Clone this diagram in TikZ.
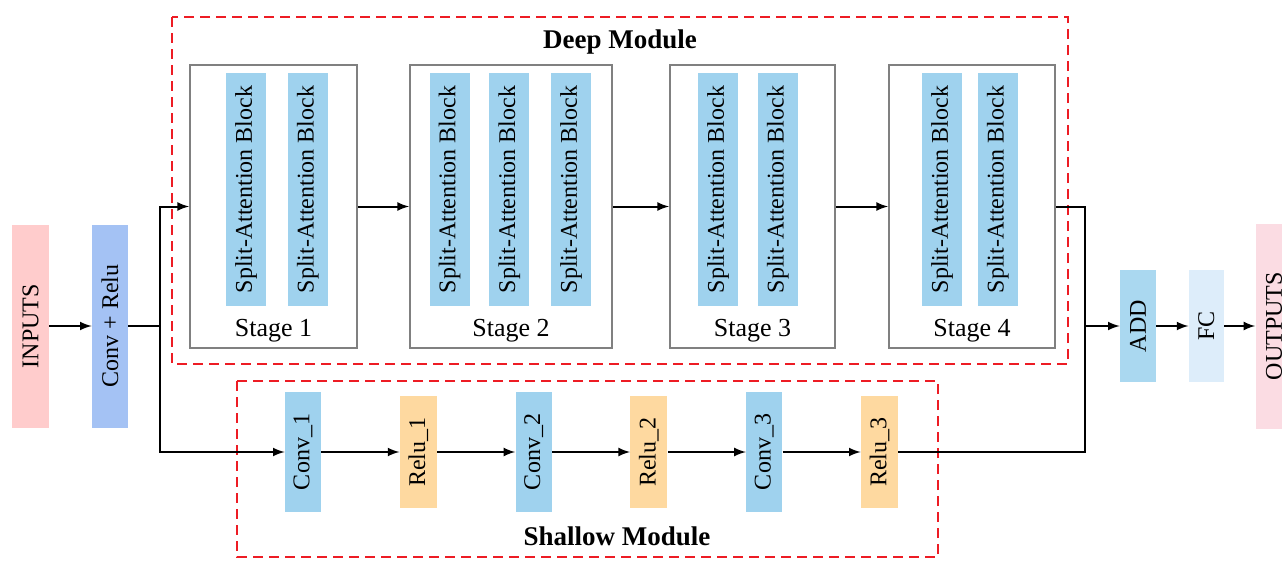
\documentclass[tikz,border=0pt]{standalone}
\usepackage{fontspec}
\setmainfont{Liberation Serif}
\usetikzlibrary{arrows,positioning}
\usepackage{xcolor}
\definecolor{inpink}{RGB}{255, 204, 204}
\definecolor{convblue}{RGB}{164, 194, 244}
\definecolor{skyblue}{RGB}{159, 210, 238}
\definecolor{reluorange}{RGB}{254, 217, 160}
\definecolor{addblue}{RGB}{170, 216, 240}
\definecolor{fcblue}{RGB}{221, 237, 250}
\definecolor{outpink}{RGB}{251, 220, 227}
\definecolor{stagegray}{RGB}{128, 128, 128}
\definecolor{dashred}{RGB}{237, 28, 36}

\newcommand{\vlabel}[1]{\rotatebox{90}{#1}}

\begin{document}
\begin{tikzpicture}[
        x=0.5pt, y=-0.5pt,
        bar/.style={rectangle, inner sep=0pt, fill=#1, font=\fontsize{12}{14}\selectfont},
        stagebox/.style={rectangle, draw=stagegray, line width=1pt, inner sep=0pt},
        splitblock/.style={bar=skyblue, minimum width=20pt, minimum height=116.5pt},
        convblock/.style={bar=skyblue, minimum width=18pt, minimum height=60pt},
        relublock/.style={bar=reluorange, minimum width=18.5pt, minimum height=56pt},
        stagelabel/.style={font=\fontsize{13}{15}\selectfont},
        title/.style={font=\fontsize{13.5}{16}\bfseries},
        module/.style={draw=dashred, line width=1pt, dash pattern=on 5pt off 3pt},
        link/.style={line width=1pt},
        flow/.style={link, -latex}
    ]

        \useasboundingbox (0,0) rectangle (1282,562);

        % input side
        \node (inputs) [
            bar=inpink,
            minimum width=18.5pt,
            minimum height=101.5pt
        ] at (30.5,326) {\vlabel{INPUTS}};

        \node (conv) [
            bar=convblue,
            minimum width=18pt,
            minimum height=101.5pt
        ] at (110,326) {\vlabel{Conv + Relu}};

        \coordinate (split) at (160,326);

        % deep module
        \node (s1) [stagebox, minimum width=83.5pt, minimum height=141.5pt] at (273.5,206.5) {};
        \node (s2) [stagebox, minimum width=101pt, minimum height=141.5pt, right=25.5pt of s1] {};
        \node (s3) [stagebox, minimum width=82.5pt, minimum height=141.5pt, right=28pt of s2] {};
        \node (s4) [stagebox, minimum width=83pt, minimum height=141.5pt, right=26pt of s3] {};

        \node (b11) [splitblock] at (246,189.5) {\vlabel{Split-Attention Block}};
        \node (b12) [splitblock, right=10.5pt of b11] {\vlabel{Split-Attention Block}};

        \node (b21) [splitblock] at (449.5,189.5) {\vlabel{Split-Attention Block}};
        \node (b22) [splitblock, right=9.5pt of b21] {\vlabel{Split-Attention Block}};
        \node (b23) [splitblock, right=10.5pt of b22] {\vlabel{Split-Attention Block}};

        \node (b31) [splitblock] at (718,189.5) {\vlabel{Split-Attention Block}};
        \node (b32) [splitblock, right=9.5pt of b31] {\vlabel{Split-Attention Block}};

        \node (b41) [splitblock] at (942,189.5) {\vlabel{Split-Attention Block}};
        \node (b42) [splitblock, right=7.5pt of b41] {\vlabel{Split-Attention Block}};

        \node (l1) [stagelabel] at ([yshift=9pt]s1.south) {Stage 1};
        \node (l2) [stagelabel] at ([yshift=9pt]s2.south) {Stage 2};
        \node (l3) [stagelabel] at ([yshift=9pt]s3.south) {Stage 3};
        \node (l4) [stagelabel] at ([yshift=9pt]s4.south) {Stage 4};

        \draw[module] (172,17) rectangle (1068,364);
        \node (deep) [title] at (620,42) {Deep Module};

        % shallow module
        \node (c1) [convblock] at (303,452) {\vlabel{Conv\_1}};
        \node (r1) [relublock, right=39pt of c1] {\vlabel{Relu\_1}};
        \node (c2) [convblock, right=39pt of r1] {\vlabel{Conv\_2}};
        \node (r2) [relublock, right=39pt of c2] {\vlabel{Relu\_2}};
        \node (c3) [convblock, right=39pt of r2] {\vlabel{Conv\_3}};
        \node (r3) [relublock, right=39pt of c3] {\vlabel{Relu\_3}};

        \draw[module] (237,381) rectangle (938,557);
        \node (shallow) [title] at (617,536) {Shallow Module};

        % output side
        \coordinate (merge) at (1085,326);

        \node (add) [
            bar=addblue,
            minimum width=18pt,
            minimum height=56pt
        ] at (1138,326) {\vlabel{ADD}};

        \node (fc) [
            bar=fcblue,
            minimum width=17.5pt,
            minimum height=56pt,
            right=16pt of add
        ] {\vlabel{FC}};

        \node (outputs) [
            bar=outpink,
            minimum width=18.5pt,
            minimum height=102.5pt,
            right=15.5pt of fc
        ] {\vlabel{OUTPUTS}};

        % connectors
        \draw[flow] (inputs) -- (conv);
        \draw[link] (conv) -- (split);
        \draw[flow] (split) |- (s1.west);
        \draw[flow] (split) |- (c1.west);
        \draw[flow] (s1) -- (s2);
        \draw[flow] (s2) -- (s3);
        \draw[flow] (s3) -- (s4);
        \draw[flow] (c1) -- (r1);
        \draw[flow] (r1) -- (c2);
        \draw[flow] (c2) -- (r2);
        \draw[flow] (r2) -- (c3);
        \draw[flow] (c3) -- (r3);
        \draw[link] (s4.east) -| (merge);
        \draw[link] (r3.east) -| (merge);
        \draw[flow] (merge) -- (add);
        \draw[flow] (add) -- (fc);
        \draw[flow] (fc) -- (outputs);
    \end{tikzpicture}
\end{document}
